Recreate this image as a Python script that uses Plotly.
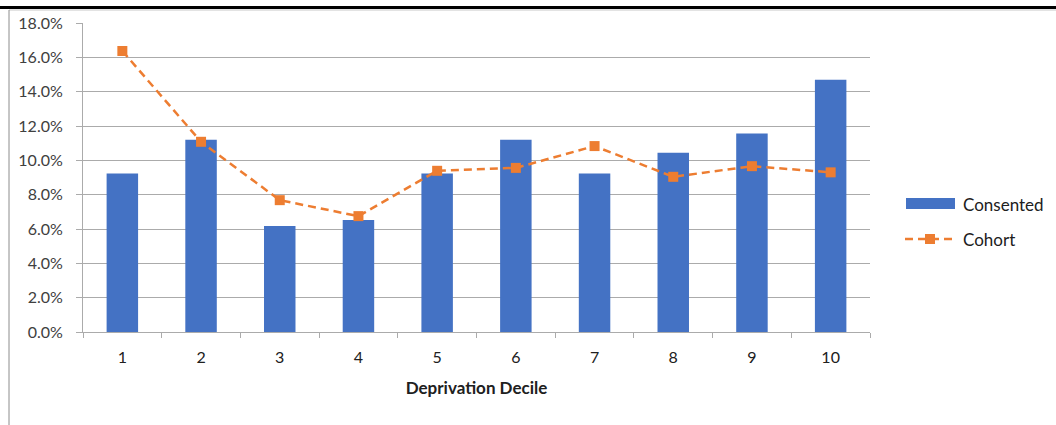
import plotly.graph_objects as go

# Deprivation deciles and the share of each group falling in them (%)
deciles = ["1", "2", "3", "4", "5", "6", "7", "8", "9", "10"]
consented = [9.24, 11.2, 6.17, 6.52, 9.24, 11.2, 9.24, 10.44, 11.56, 14.7]
cohort = [16.37, 11.08, 7.68, 6.75, 9.39, 9.56, 10.83, 9.04, 9.66, 9.3]

y_ticks = [0, 2, 4, 6, 8, 10, 12, 14, 16, 18]

FONT = "Lato, Carlito, Calibri, sans-serif"
TEXT = "#404040"
DARK = "#202020"
GRID = "#ababab"
BLUE = "#4472C4"
ORANGE = "#ED7D31"
DASH = "8px,5px"

fig = go.Figure()
fig.add_trace(go.Bar(
    x=deciles, y=consented, name="Consented",
    marker=dict(color=BLUE, line=dict(width=0)),
    showlegend=False,
))
fig.add_trace(go.Scatter(
    x=deciles, y=cohort, name="Cohort", mode="lines+markers",
    line=dict(color=ORANGE, width=2.5, dash=DASH),
    marker=dict(symbol="square", size=10, color=ORANGE),
    showlegend=False,
))

# plot-area geometry in pixels (used to place the frame and the key)
L, R, T, B = 83, 870, 23, 332
W, H = R - L, B - T


def px_x(x):
    return (x - L) / W


def px_y(y):
    return (B - y) / H


shapes = [
    # thick top rule across the page
    dict(type="line", xref="paper", yref="paper",
         x0=px_x(0), x1=px_x(1056), y0=px_y(7.5), y1=px_y(7.5),
         line=dict(color="black", width=3)),
    # chart frame: top and left edges
    dict(type="line", xref="paper", yref="paper",
         x0=px_x(9), x1=px_x(1056), y0=px_y(10), y1=px_y(10),
         line=dict(color="#c8c8c8", width=1)),
    dict(type="line", xref="paper", yref="paper",
         x0=px_x(9), x1=px_x(9), y0=px_y(10), y1=px_y(425),
         line=dict(color="#8c8c8c", width=1)),
    # key: wide bar swatch
    dict(type="rect", xref="paper", yref="paper",
         x0=px_x(906), x1=px_x(955), y0=px_y(198), y1=px_y(209),
         fillcolor=BLUE, line=dict(width=0)),
    # key: dashed line with square marker
    dict(type="line", xref="paper", yref="paper",
         x0=px_x(905), x1=px_x(956), y0=px_y(239), y1=px_y(239),
         line=dict(color=ORANGE, width=2.5, dash=DASH)),
    dict(type="rect", xref="paper", yref="paper",
         x0=px_x(925), x1=px_x(935), y0=px_y(234), y1=px_y(244),
         fillcolor=ORANGE, line=dict(width=0)),
]

annotations = [
    dict(text="Consented", xref="paper", yref="paper",
         x=px_x(961), y=px_y(204), xanchor="left", yanchor="middle",
         showarrow=False, font=dict(family=FONT, size=17, color=DARK)),
    dict(text="Cohort", xref="paper", yref="paper",
         x=px_x(961), y=px_y(239), xanchor="left", yanchor="middle",
         showarrow=False, font=dict(family=FONT, size=17, color=DARK)),
]

fig.update_layout(
    width=1056, height=425,
    margin=dict(l=L, r=1056 - R, t=T, b=425 - B),
    paper_bgcolor="white", plot_bgcolor="white",
    font=dict(family=FONT, size=16, color=TEXT),
    bargap=0.6,
    showlegend=False,
    xaxis=dict(
        type="category", tickson="boundaries", automargin=False,
        range=[-0.5, len(deciles) - 0.5],
        showline=True, linecolor=GRID, linewidth=1,
        ticks="outside", ticklen=5, tickcolor=GRID,
        showgrid=False, ticklabelstandoff=11,
        tickfont=dict(family=FONT, size=16, color=DARK),
        title=dict(text="<b>Deprivation Decile</b>", standoff=16,
                   font=dict(family=FONT, size=17, color=DARK)),
    ),
    yaxis=dict(
        range=[0, 18], tickvals=y_ticks, automargin=False,
        ticktext=[f"{v:.1f}%" for v in y_ticks],
        showline=True, linecolor=GRID, linewidth=1,
        ticks="outside", ticklen=6, tickcolor=GRID,
        showgrid=True, gridcolor=GRID, gridwidth=1,
        zeroline=False, ticklabelstandoff=10,
        tickfont=dict(family=FONT, size=16, color=TEXT),
    ),
    shapes=shapes,
    annotations=annotations,
)

fig.write_html("out.html")
